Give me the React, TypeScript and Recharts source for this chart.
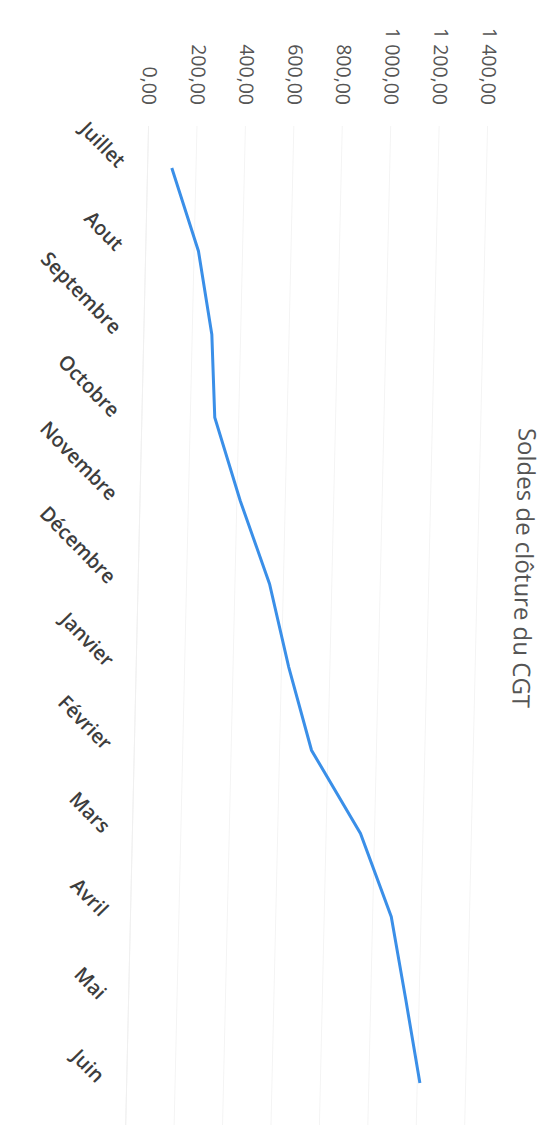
import React from 'react';
import { LineChart, Line, XAxis, YAxis, CartesianGrid } from 'recharts';

const months = [
  'Juillet',
  'Aout',
  'Septembre',
  'Octobre',
  'Novembre',
  'Décembre',
  'Janvier',
  'Février',
  'Mars',
  'Avril',
  'Mai',
  'Juin',
];
const soldes = [100, 218, 281, 301, 414, 543, 630, 732, 942, 1077, 1145, 1211];
const valueTicks = [0, 200, 400, 600, 800, 1000, 1200, 1400];
const title = 'Soldes de clôture du CGT';

const data = months.map((m, i) => ({ mois: m, solde: soldes[i] }));

const FONT = '"Open Sans", sans-serif';

// 1400 -> "1 400,00"
const fmt = (v: number) => {
  const [i, d] = v.toFixed(2).split('.');
  return i.replace(/\B(?=(\d{3})+(?!\d))/g, ' ') + ',' + d;
};

const MonthTick = (props: any) => {
  const { x, y, payload } = props;
  return (
    <g transform={`translate(${x - 4},${y})`}>
      <text
        textAnchor="end"
        transform="rotate(-45)"
        dy="0.35em"
        fill="#3d3d3d"
        fontSize={20}
        fontWeight={600}
        fontFamily={FONT}
      >
        {payload.value}
      </text>
    </g>
  );
};

const App: React.FC = () => {
  return (
    <div style={{ position: 'fixed', left: 0, top: 0, width: 553, height: 1146, overflow: 'hidden', background: '#fff' }}>
      {/* the scan is slightly sheared, lower part drifts left */}
      <div style={{ position: 'absolute', left: 0, top: 0, width: 553, height: 1146, transform: 'skewX(-1.31deg)', transformOrigin: '0 150px' }}>
        <div
          style={{
            position: 'absolute',
            left: 0,
            top: 0,
            width: 1146,
            height: 553,
            transformOrigin: '0 0',
            transform: 'translateX(553px) rotate(90deg)',
          }}
        >
          <div
            style={{
              position: 'absolute',
              left: 0,
              top: 3,
              width: 1136,
              textAlign: 'center',
              fontFamily: FONT,
              fontSize: 24,
              lineHeight: '32px',
              color: '#555555',
            }}
          >
            {title}
          </div>
          <LineChart width={1146} height={553} data={data} margin={{ top: 66, right: 21, bottom: 8, left: 0 }}>
            <CartesianGrid horizontal vertical={false} stroke="#f4f4f4" />
            <XAxis
              dataKey="mois"
              height={140}
              interval={0}
              padding={{ left: 42, right: 42 }}
              tickLine={false}
              tickMargin={20}
              axisLine={{ stroke: '#f0f0f0' }}
              tick={<MonthTick />}
            />
            <YAxis
              width={126}
              domain={[0, 1400]}
              ticks={valueTicks}
              tickFormatter={fmt}
              tickLine={false}
              axisLine={false}
              tickMargin={15}
              tick={{ fill: '#555555', fontSize: 19.5, fontFamily: FONT }}
            />
            <Line
              type="linear"
              dataKey="solde"
              stroke="#3a8fe8"
              strokeWidth={3}
              dot={false}
              isAnimationActive={false}
            />
          </LineChart>
        </div>
      </div>
    </div>
  );
};

export default App;
